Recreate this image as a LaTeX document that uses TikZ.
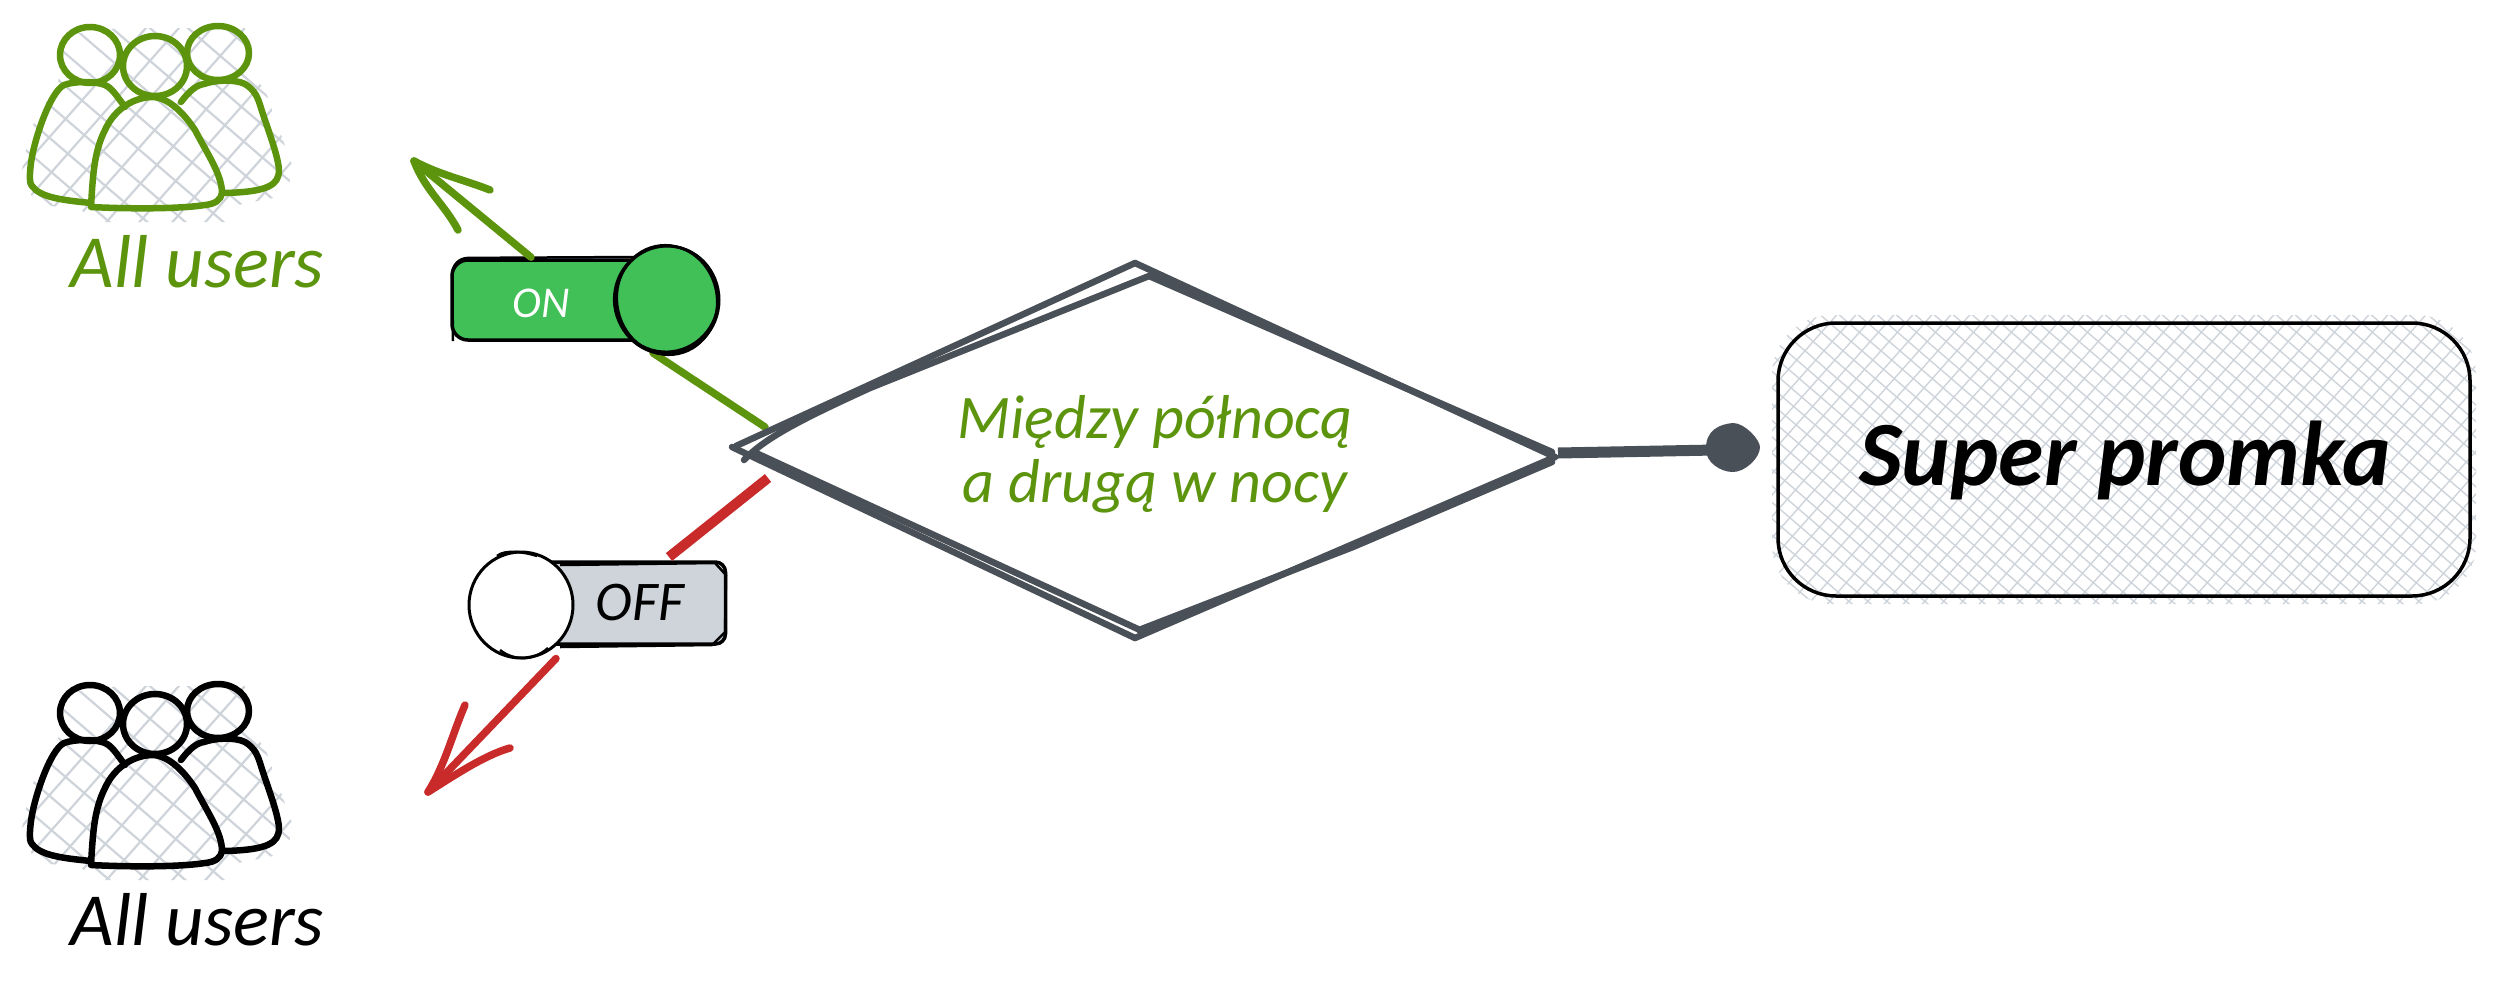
\documentclass[tikz,border=0pt]{standalone}
\usepackage{fontspec}
\setmainfont{Carlito}[Scale=1]
\usetikzlibrary{arrows.meta,calc,shapes.geometric}
\definecolor{slate}{HTML}{495057}
\definecolor{leaf}{HTML}{5C940D}
\definecolor{hatch}{HTML}{CED4DA}
\definecolor{onfill}{HTML}{40C057}
\definecolor{redline}{HTML}{C92A2A}
\tikzset{
  handtext/.style={font=\itshape\fontsize{#1}{#1}\selectfont,inner sep=0pt,align=center},
  personline/.style={line width=6.5pt,line cap=round,line join=round},
  hatchline/.style={draw=hatch,line width=2.2pt},
  diamondline/.style={draw=slate,line width=6.5pt,line cap=round,line join=round},
  linkline/.style={line width=7.5pt,line cap=round,line join=round},
  sketchline/.style={draw=black,line width=2.5pt,line join=round},
}
\newcommand{\peoplegroup}[2]{%
 \begin{scope}[yshift=-#2pt]
  \begin{scope}
   \clip (65,35) -- (120,28) -- (245,28) -- (250,72) -- (265,90) -- (292,165) -- (288,195) -- (228,207) -- (225,222) -- (92,222) -- (80,208) -- (35,205) -- (22,170) -- (30,130) -- (58,82) -- cycle;
   \foreach \k in {-10,...,10}{
     \draw[hatchline] ({26.5+\k*38},20) -- ++(250,215);
     \draw[hatchline] ({-32.6+\k*33+330},230) -- ++(190,-215);
   }
  \end{scope}
  \draw[personline,#1] (125,107) .. controls (116,95) and (112,88) .. (105,85) .. controls (95,81) and (75,81) .. (64,85) .. controls (50,92) and (34,140) .. (31,163) .. controls (29,178) and (30,184) .. (32,186) .. controls (40,197) and (60,200) .. (91,203);
  \draw[personline,#1] (181,102) .. controls (190,90) and (197,85) .. (204,84) .. controls (215,80) and (235,79) .. (245,84) .. controls (255,90) and (258,98) .. (261,108) .. controls (268,130) and (278,155) .. (279,170) .. controls (279,185) and (268,192) .. (224,193);
  \draw[personline,#1] (91,207) .. controls (93,170) and (95,150) .. (105,130) .. controls (115,108) and (135,97) .. (153,97) .. controls (170,98) and (185,115) .. (195,130) .. controls (208,155) and (222,175) .. (222,193) .. controls (221,200) and (215,204) .. (205,205) .. controls (180,209) and (130,209) .. (91,207) -- cycle;
  \draw[personline,#1] (90,55) ellipse [x radius=30,y radius=28];
  \draw[personline,#1] (155,66) ellipse [x radius=32,y radius=30];
  \draw[personline,#1] (218,53) ellipse [x radius=31,y radius=27];
 \end{scope}}
\begin{document}
\begin{tikzpicture}[x=1pt,y=-1pt]
\useasboundingbox (0,0) rectangle (2500,991);
\fill[white] (0,0) rectangle (2500,991);

% people
\peoplegroup{draw=leaf}{0}
\peoplegroup{draw=black}{658}
\node[handtext=75,text=leaf,anchor=base] (usersup) at (197.5,287) {All users};
\node[handtext=75,anchor=base] (usersdown) at (197.5,945) {All users};

% arrows & links (behind toggles)
\coordinate (greentip) at (414,161);
\coordinate (redtip) at (428,792);
\coordinate (greenstart) at (765,427);
\coordinate (redstart) at (768,478);

% toggle ON
\node[inner sep=0pt,minimum width=200pt,minimum height=80pt,rounded corners=16pt,fill=onfill,draw=black,line width=3.5pt] (onbar) at (552,300) {};
\draw[sketchline,rounded corners=16pt] (453,341) -- (452,258) -- (640,257);
\draw[leaf,linkline] (greenstart) -- (653,353);
\node[draw=black,line width=3pt,fill=onfill,ellipse,inner sep=0pt,minimum width=104pt,minimum height=108pt] (onknob) at (667,300) {};
\draw[sketchline,rotate around={12:(667,300)}] (667,300) ellipse [x radius=50,y radius=55];
\draw[sketchline,rotate around={-10:(667,300)}] (666,299) ellipse [x radius=52,y radius=53];
\node[handtext=44,text=white] (ontext) at (541,303) {ON};

% toggle OFF
\node[inner sep=0pt,minimum width=235pt,minimum height=82pt,rounded corners=10pt,fill=hatch,draw=black,line width=3.5pt] (offbar) at (608,603) {};
\draw[sketchline] (560,565) -- (715,563) -- (726,575) -- (725,632) -- (712,645) -- (560,647);
\node[draw=black,line width=3pt,fill=white,ellipse,inner sep=0pt,minimum width=104pt,minimum height=106pt] (offknob) at (521,605) {};
\draw[sketchline] (497,556) .. controls (505,549) and (525,552) .. (537,556);
\draw[sketchline] (500,650) .. controls (515,662) and (535,660) .. (548,648);
\node[handtext=56] (offtext) at (640,603) {OFF};

% arrows
\draw[leaf,linkline] (onbar.north) ++(-21,-1) coordinate (gfrom) -- (greentip);
\draw[leaf,linkline] (490,190) .. controls (465,180) and (440,175) .. (greentip) .. controls (425,190) and (445,205) .. (458,230);
\draw[redline,linkline,line width=10pt,line cap=butt] (redstart) -- (669,557);
\draw[redline,linkline] (offknob.south) ++(35,-1) coordinate (rfrom) -- (redtip);
\draw[redline,linkline] (465,705) .. controls (452,735) and (445,765) .. (redtip) .. controls (455,775) and (485,755) .. (510,748);

% diamond
\coordinate (dw) at (736,446);
\coordinate (dn) at (1135,263);
\coordinate (de) at (1555,457);
\coordinate (ds) at (1135,638);
\path[fill=white] (dw) -- (dn) -- (de) -- (ds) -- cycle;
\draw[diamondline] (dw) -- (dn);
\draw[diamondline] (744,460) .. controls (765,438) and (800,420) .. (870,388) -- (1149,276);
\draw[diamondline] (dn) -- (de);
\draw[diamondline] (1149,276) -- (1552,452);
\draw[diamondline] (de) -- (ds);
\draw[diamondline] (1552,462) -- (1353,547) -- (1139,630);
\draw[diamondline] (ds) -- (732,447);
\draw[diamondline] (1140,630) -- (756,453);
\node[handtext=62,text=leaf,anchor=north] (cond) at (1155,395) {Między północą\\[2pt]a drugą w nocy};

% box
\begin{scope}
 \clip[rounded corners=60pt] (1772,315) rectangle (2476,604);
 \foreach \k in {-30,...,90}{
   \draw[hatch,line width=1.4pt] ({1480+\k*19},300) -- ++(360,310);
   \draw[hatch,line width=1.4pt] ({1480+\k*19},610) -- ++(275,-310);
 }
\end{scope}
\node[rounded corners=58pt,draw=black,line width=3.5pt,inner sep=0pt,minimum width=692pt,minimum height=273pt] (promo) at (2124,459.5) {};
\node[handtext=92,anchor=base,font=\bfseries\itshape\fontsize{92}{92}\selectfont] (promotext) at (2125,485) {Super promka};

% connector
\draw[slate,line width=11pt] (1558,453) -- (1715,450);
\fill[slate] (1733,423) .. controls (1745,423) and (1760,440) .. (1760,447) .. controls (1760,458) and (1745,472) .. (1733,472) .. controls (1720,472) and (1706,462) .. (1706,450) .. controls (1705,430) and (1720,424) .. (1733,423) -- cycle;
\end{tikzpicture}
\end{document}
